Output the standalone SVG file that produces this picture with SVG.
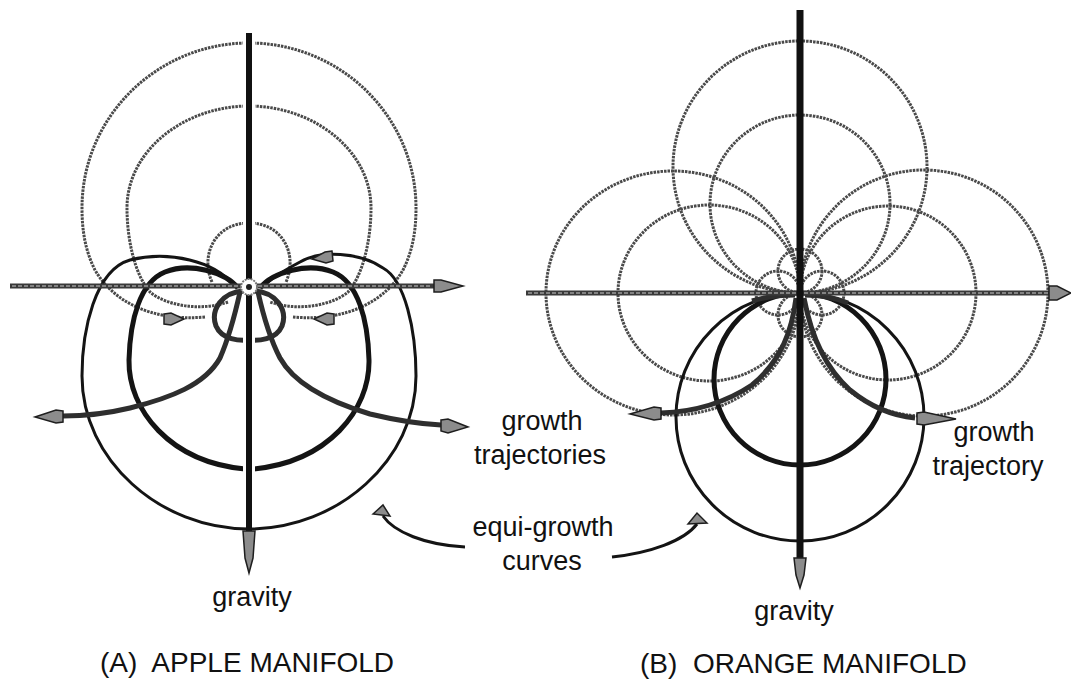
<svg xmlns="http://www.w3.org/2000/svg" width="1071" height="694" viewBox="0 0 1071 694">
<style>
.bg{fill:#fff}
.axv{stroke:#111;stroke-width:6;fill:none}
.halo{stroke:#fff;stroke-width:12;fill:none}
.axh{stroke:#3a3a3a;stroke-width:5;fill:none}
.axh2{stroke:#9a9a9a;stroke-width:1.6;stroke-dasharray:4 2;fill:none}
.dot{fill:none;stroke:#4a4a4a;stroke-width:3;stroke-dasharray:2.5 1}
.thick{fill:none;stroke:#141414;stroke-width:5}
.thin{fill:none;stroke:#141414;stroke-width:3}
.traj{fill:none;stroke:#2e2e2e;stroke-width:5}
.head{fill:#8c8c8c;stroke:#1e1e1e;stroke-width:1.5}
.lbl{font-family:"Liberation Sans",Arial,sans-serif;font-size:27px;fill:#111}
.ttl{font-family:"Liberation Sans",Arial,sans-serif;font-size:28px;fill:#111;white-space:pre}
</style>
<rect class="bg" x="0" y="0" width="1071" height="694"/>

<g id="apple-manifold">
  <g id="apple-equigrowth-dotted">
    <path class="dot" d="M205,317 C150,322 112,300 95,270 C85,250 82,230 82,208 C82,117 157,43 249,43 C341,43 416,117 416,208 C416,230 413,250 403,270 C386,300 348,322 293,317"/>
    <path class="dot" d="M228,302 C200,312 165,305 150,292 C135,275 127,240 127,208 C127,150 185,106 249,106 C313,106 371,150 371,208 C371,240 363,275 348,292 C333,305 298,312 270,302"/>
    <path class="dot" d="M212,282 C200,255 215,223 249,223 C283,223 298,255 286,282"/>
  </g>
  <g id="apple-equigrowth-solid">
    <path class="thin" d="M232,284 C215,262 170,250 130,260 C95,270 82,330 82,376 C82,460 160,529 249,529 C338,529 416,460 416,376 C416,330 405,280 383,268 C360,252 320,250 300,262 C285,270 272,278 266,284"/>
    <path class="thick" d="M238,288 C225,272 190,262 165,272 C140,282 130,320 129,360 C128,410 170,462 245,469"/>
    <path class="thick" d="M253,469 C328,462 370,410 369,360 C368,320 358,282 333,272 C308,262 273,272 260,288"/>
    <path class="traj" d="M244,291 C222,292 210,310 216,326 C222,340 240,341 249,340 C258,341 276,340 282,326 C288,310 276,292 254,291"/>
  </g>
  <g id="apple-trajectories">
    <path class="traj" d="M240,292 C236,310 230,335 220,358 C205,385 170,398 130,408 C105,414 85,416 63,416"/>
    <polygon class="head" points="63,411 56,410 35,417 56,423 63,422"/>
    <path class="traj" d="M258,292 C262,310 268,335 280,358 C295,385 330,402 370,414 C395,420 420,424 441,425"/>
    <polygon class="head" points="441,420 448,419 468,427 448,433 441,431"/>
    <polygon class="head" points="164,314 171,313 184,319 171,325 164,324"/>
    <polygon class="head" points="334,314 327,313 314,319 327,325 334,324"/>
    <polygon class="head" points="332,251 325,252 312,259 326,263 333,261"/>
  </g>
  <g id="apple-axes">
    <line class="halo" x1="249" y1="36" x2="249" y2="476"/>
    <line class="axh" x1="10" y1="286" x2="434" y2="286"/>
    <line class="axh2" x1="12" y1="286" x2="432" y2="286"/>
    <polygon class="head" points="434,280 441,280 463,286 441,292 434,292"/>
    <line class="axv" x1="249" y1="33" x2="249" y2="533"/>
    <polygon class="head" points="243,531 255,531 253,558 249,573 245,558"/>
    <circle cx="249" cy="287" r="8" fill="#fff" stroke="#777" stroke-width="2" stroke-dasharray="2 1"/>
    <circle cx="249" cy="287" r="3" fill="#222"/>
  </g>
</g>

<g id="orange-manifold">
  <g id="orange-equigrowth-dotted">
    <ellipse class="dot" cx="800" cy="167" rx="127" ry="126"/>
    <ellipse class="dot" cx="800" cy="204" rx="90" ry="89"/>
    <ellipse class="dot" cx="673" cy="293" rx="127" ry="122"/>
    <ellipse class="dot" cx="709" cy="293" rx="91" ry="88"/>
    <ellipse class="dot" cx="924" cy="293" rx="124" ry="123"/>
    <ellipse class="dot" cx="888" cy="293" rx="88" ry="87"/>
    <circle class="dot" cx="800" cy="271" r="22"/>
    <circle class="dot" cx="778" cy="293" r="22"/>
    <circle class="dot" cx="822" cy="293" r="22"/>
    <circle class="dot" cx="800" cy="315" r="22"/>
  </g>
  <g id="orange-equigrowth-solid">
    <circle class="thin" cx="800" cy="417" r="124"/>
    <circle class="thick" cx="800" cy="379" r="86"/>
    <path class="traj" d="M752,301 Q772,295 795,295"/>
    <path class="traj" d="M848,303 Q828,295 805,295"/>
  </g>
  <g id="orange-trajectories">
    <path class="traj" d="M796,298 C792,330 782,360 752,385 C722,405 690,412 661,413"/>
    <polygon class="head" points="661,408 654,407 630,414 654,420 661,419"/>
    <path class="traj" d="M804,298 C810,330 822,365 850,390 C872,408 895,416 915,418"/>
    <polygon class="head" points="917,413 924,412 956,419 924,425 917,424"/>
  </g>
  <g id="orange-axes">
    <line class="axh" x1="526" y1="293" x2="1052" y2="293"/>
    <line class="axh2" x1="528" y1="293" x2="1050" y2="293"/>
    <polygon class="head" points="1049,286 1057,286 1071,293 1057,300 1049,300"/>
    <line class="axv" x1="800" y1="10" x2="800" y2="562" style="stroke-width:7"/>
    <polygon class="head" points="794,558 806,558 804,575 800,588 796,575"/>
  </g>
</g>

<g id="connectors">
  <path class="thin" d="M465,547 C425,545 394,532 383,516"/>
  <polygon class="head" points="373,514 383,505 390,516"/>
  <path class="thin" d="M612,557 C650,553 684,541 697,524"/>
  <polygon class="head" points="688,524 697,513 707,523"/>
</g>

<g id="labels">
  <text class="lbl" x="252" y="606" text-anchor="middle">gravity</text>
  <text class="lbl" x="794" y="620" text-anchor="middle">gravity</text>
  <text class="lbl" x="542" y="430" text-anchor="middle">growth</text>
  <text class="lbl" x="540" y="464" text-anchor="middle">trajectories</text>
  <text class="lbl" x="543" y="536" text-anchor="middle">equi-growth</text>
  <text class="lbl" x="542" y="570" text-anchor="middle">curves</text>
  <text class="lbl" x="994" y="441" text-anchor="middle">growth</text>
  <text class="lbl" x="988" y="475" text-anchor="middle">trajectory</text>
  <text class="ttl" x="100" y="672">(A)  APPLE MANIFOLD</text>
  <text class="ttl" x="640" y="673">(B)  ORANGE MANIFOLD</text>
</g>
</svg>
